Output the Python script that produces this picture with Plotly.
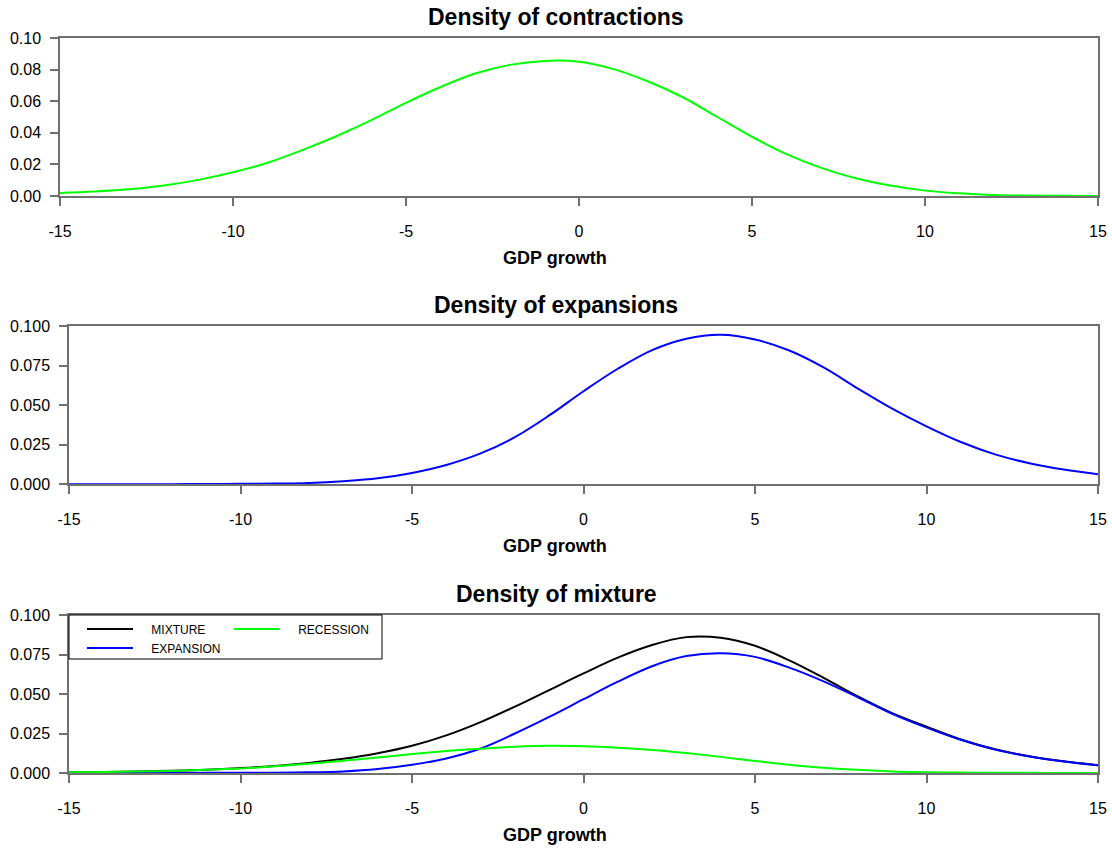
import plotly.graph_objects as go

# GDP growth grid (x values)
gdp_growth = [-15, -14, -13, -12, -11, -10, -9, -8, -7, -6, -5, -4, -3, -2, -1,
              0, 1, 2, 3, 4, 5, 6, 7, 8, 9, 10, 11, 12, 13, 14, 15]

# Panel 1: density of contractions
contraction_density = [0.0019, 0.0028, 0.0042, 0.0066, 0.0102, 0.0150, 0.0210, 0.0290,
                       0.0380, 0.0480, 0.0590, 0.0690, 0.0775, 0.0830, 0.0855,
                       0.0850, 0.0803, 0.0725, 0.0625, 0.0500, 0.0375, 0.0265, 0.0178,
                       0.0112, 0.0066, 0.0034, 0.0017, 0.0007, 0.0003, 0.0001, 0.0000]

# Panel 2: density of expansions
expansion_density = [0.0000, 0.0000, 0.0000, 0.0001, 0.0002, 0.0003, 0.0005, 0.0009,
                     0.0020, 0.0038, 0.0072, 0.0122, 0.0195, 0.0298, 0.0435,
                     0.0588, 0.0730, 0.0848, 0.0920, 0.0945, 0.0915, 0.0845, 0.0738,
                     0.0605, 0.0478, 0.0366, 0.0267, 0.0189, 0.0133, 0.0093, 0.0063]

# Panel 3: density of mixture and weighted components
mixture_density = [0.0005, 0.0007, 0.0010, 0.0014, 0.0021, 0.0031, 0.0045, 0.0064,
                   0.0090, 0.0125, 0.0172, 0.0238, 0.0322, 0.0420, 0.0525,
                   0.0630, 0.0730, 0.0810, 0.0860, 0.0856, 0.0805, 0.0713, 0.0602,
                   0.0485, 0.0379, 0.0293, 0.0212, 0.0150, 0.0106, 0.0074, 0.0049]
mix_expansion = [0.0000, 0.0000, 0.0000, 0.0000, 0.0001, 0.0001, 0.0002, 0.0004,
                 0.0010, 0.0025, 0.0052, 0.0092, 0.0155, 0.0250, 0.0355,
                 0.0467, 0.0578, 0.0676, 0.0740, 0.0758, 0.0735, 0.0667, 0.0580,
                 0.0479, 0.0374, 0.0287, 0.0210, 0.0148, 0.0105, 0.0073, 0.0049]
mix_recession = [0.0005, 0.0006, 0.0009, 0.0013, 0.0020, 0.0029, 0.0042, 0.0058,
                 0.0077, 0.0098, 0.0120, 0.0139, 0.0154, 0.0166, 0.0172,
                 0.0169, 0.0160, 0.0146, 0.0126, 0.0102, 0.0076, 0.0052, 0.0033,
                 0.0020, 0.0010, 0.0005, 0.0003, 0.0001, 0.0001, 0.0000, 0.0000]

titles = ["Density of contractions", "Density of expansions", "Density of mixture"]
x_title = "GDP growth"
x_ticks = [-15, -10, -5, 0, 5, 10, 15]
x_tick_text = ["-15", "-10", "-5", "0", "5", "10", "15"]
y_ticks_1 = [0.00, 0.02, 0.04, 0.06, 0.08, 0.10]
y_ticks_23 = [0.000, 0.025, 0.050, 0.075, 0.100]

GREEN = "#00FF00"
BLUE = "#0000FF"
BLACK = "#000000"
FONT = "Liberation Sans, Arial, sans-serif"
NB = "\u00a0"

fig = go.Figure()

fig.add_trace(go.Scatter(x=gdp_growth, y=contraction_density, mode="lines",
                         line=dict(color=GREEN, width=2, shape="spline"),
                         showlegend=False, xaxis="x", yaxis="y"))
fig.add_trace(go.Scatter(x=gdp_growth, y=expansion_density, mode="lines",
                         line=dict(color=BLUE, width=2, shape="spline"),
                         showlegend=False, xaxis="x2", yaxis="y2"))
fig.add_trace(go.Scatter(x=gdp_growth, y=mixture_density, mode="lines",
                         name=NB * 4 + "MIXTURE",
                         legendgroup="a", line=dict(color=BLACK, width=2, shape="spline"),
                         xaxis="x3", yaxis="y3"))
fig.add_trace(go.Scatter(x=gdp_growth, y=mix_expansion, mode="lines",
                         name=NB * 4 + "EXPANSION" + NB * 1,
                         legendgroup="a", line=dict(color=BLUE, width=2, shape="spline"),
                         xaxis="x3", yaxis="y3"))
fig.add_trace(go.Scatter(x=gdp_growth, y=mix_recession, mode="lines",
                         name=NB * 4 + "RECESSION",
                         legendgroup="b", line=dict(color=GREEN, width=2, shape="spline"),
                         xaxis="x3", yaxis="y3"))

ML, MR, MT, MB = 60, 14, 38, 75
W, H = 1112, 848
pw = W - ML - MR
ph = H - MT - MB

def fy(px):
    return (H - MB - px) / ph

def fx(px):
    return (px - ML) / pw

dom_y = [[fy(196), 1.0], [fy(484.3), fy(326)], [0.0, fy(615)]]
dom_x = [[0.0, 1.0], [fx(69), 1.0], [fx(69), 1.0]]

axis_common = dict(showline=True, linecolor="#707070", linewidth=1.5, mirror=True,
                   ticks="outside", ticklen=8, tickcolor="#707070", tickwidth=1.5,
                   showgrid=False, zeroline=False, automargin=False,
                   tickfont=dict(family=FONT, size=16, color="#000"))

layout = dict(
    width=W, height=H, autosize=False,
    margin=dict(l=ML, r=MR, t=MT, b=MB, autoexpand=False),
    plot_bgcolor="white", paper_bgcolor="white",
    font=dict(family=FONT, color="#000"),
    legend=dict(orientation="h", traceorder="grouped", x=fx(82), y=fy(614.5),
                xanchor="left", yanchor="top", bgcolor="rgba(0,0,0,0)",
                borderwidth=0,
                font=dict(family=FONT, size=12, color="#000"),
                itemwidth=46, tracegroupgap=0),
    shapes=[dict(type="rect", xref="paper", yref="paper",
                 x0=fx(69), x1=fx(382), y0=fy(659), y1=fy(615),
                 line=dict(color="#000", width=1), fillcolor="white", layer="above")],
)

annotations = []
for i in range(3):
    sx = "" if i == 0 else str(i + 1)
    layout["xaxis" + sx] = dict(axis_common, domain=dom_x[i], range=[-15, 15],
                                tickvals=x_ticks, ticktext=x_tick_text,
                                ticklabelstandoff=12, anchor="y" + sx)
    if i == 0:
        layout["yaxis" + sx] = dict(axis_common, domain=dom_y[i], range=[0, 0.1],
                                    tickvals=y_ticks_1, tickformat=".2f",
                                    ticklabelstandoff=6, anchor="x" + sx)
    else:
        layout["yaxis" + sx] = dict(axis_common, domain=dom_y[i], range=[0, 0.1],
                                    tickvals=y_ticks_23, tickformat=".3f",
                                    ticklabelstandoff=6, anchor="x" + sx)
    annotations.append(dict(text="<b>%s</b>" % titles[i], x=fx(556), y=dom_y[i][1],
                            xref="paper", yref="paper", xanchor="center",
                            yanchor="bottom", yshift=6, showarrow=False,
                            font=dict(family=FONT, size=23, color="#000")))
    annotations.append(dict(text="<b>%s</b>" % x_title, x=fx(555), y=dom_y[i][0],
                            xref="paper", yref="paper", xanchor="center",
                            yanchor="top", yshift=-50, showarrow=False,
                            font=dict(family=FONT, size=18, color="#000")))

layout["annotations"] = annotations
fig.update_layout(**layout)
fig.write_html("out.html", config={"displayModeBar": False, "responsive": False},
               post_script="document.body.style.margin='0';")
